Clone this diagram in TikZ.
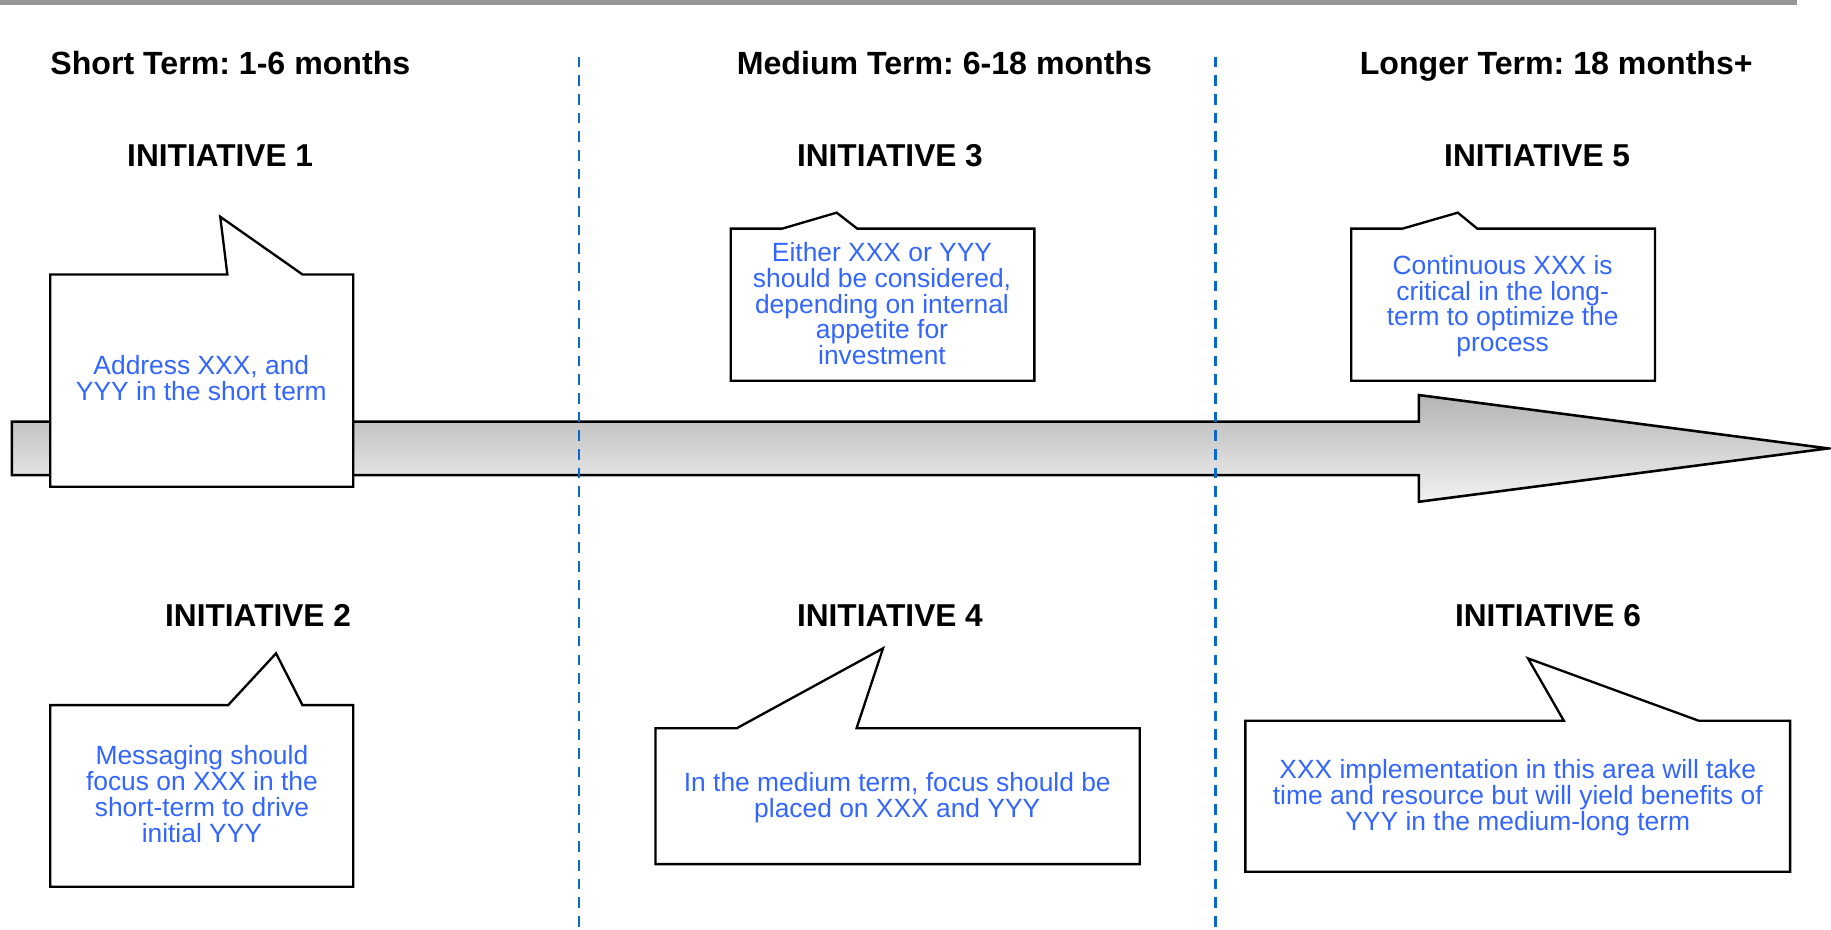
\documentclass[tikz,border=0pt]{standalone}
\usepackage{fontspec}
\setmainfont{Liberation Sans}
\frenchspacing
\definecolor{txtblue}{RGB}{51,102,255}
\definecolor{dashblue}{RGB}{8,104,206}
\definecolor{bargray}{RGB}{150,150,150}
\tikzset{
  hdr/.style={inner sep=0pt, anchor=base west, font=\fontsize{27.5}{30}\selectfont\bfseries},
  ini/.style={inner sep=0pt, anchor=base, font=\fontsize{27.1}{30}\selectfont\bfseries},
  body/.style={inner sep=0pt, anchor=center, align=center, text=txtblue, font=\fontsize{22.6}{22}\selectfont},
  callout/.style={draw=black, fill=white, line width=2pt, line join=miter},
  divider/.style={draw=dashblue, line width=2pt, dash pattern=on 9.1pt off 6.9pt},
  bigarrow/.style={draw=black, line width=2.2pt, top color={rgb,255:red,180;green,180;blue,180}, bottom color={rgb,255:red,242;green,242;blue,242}}
}
\begin{document}
\begin{tikzpicture}[x=1pt,y=-1pt]
\useasboundingbox (0,0) rectangle (1568,796);
% top bar
\fill[bargray] (0,0) rectangle (1539,4.5);
% timeline arrow
\path[bigarrow] (10.2,361.1) -- (1215,361.1) -- (1215,338.3) -- (1565.5,384) -- (1215,429.7) -- (1215,406.8) -- (10.2,406.8) -- cycle;
% dividers
\coordinate (d1t) at (496.1,48.5);
\coordinate (d1b) at (496.1,796);
\coordinate (d2t) at (1041,48.5);
\coordinate (d2b) at (1041,796);
\draw[divider] (d1t) -- (d1b);
\draw[divider] (d2t) -- (d2b);
% headers
\node[hdr] (h1) at (43,63.4) {Short Term: 1-6 months};
\node[hdr] (h2) at (630.8,63.4) {Medium Term: 6-18 months};
\node[hdr] (h3) at (1164.3,63.4) {Longer Term: 18 months+};
% initiative titles
\node[ini] (i1) at (188.5,142.7) {INITIATIVE 1};
\node[ini] (i3) at (762.1,142.7) {INITIATIVE 3};
\node[ini] (i5) at (1316.3,142.7) {INITIATIVE 5};
\node[ini] (i2) at (221,536.7) {INITIATIVE 2};
\node[ini] (i4) at (762.1,536.7) {INITIATIVE 4};
\node[ini] (i6) at (1325.6,536.7) {INITIATIVE 6};
% callouts
\path[callout] (43,235) -- (194.7,235) -- (188.6,185.6) -- (259,235) -- (302.5,235) -- (302.5,416.8) -- (43,416.8) -- cycle;
\path[callout] (625.8,195.8) -- (669.8,195.8) -- (716.5,182.1) -- (734.1,195.8) -- (885.8,195.8) -- (885.8,326) -- (625.8,326) -- cycle;
\path[callout] (1157.2,195.8) -- (1201,195.8) -- (1248.4,182.1) -- (1265.1,195.8) -- (1417.2,195.8) -- (1417.2,326) -- (1157.2,326) -- cycle;
\path[callout] (43,603.8) -- (195.4,603.8) -- (236.4,559.5) -- (259,603.8) -- (302.5,603.8) -- (302.5,759.3) -- (43,759.3) -- cycle;
\path[callout] (561.4,623.7) -- (630.8,623.7) -- (756.2,555.2) -- (733.5,623.7) -- (976,623.7) -- (976,740) -- (561.4,740) -- cycle;
\path[callout] (1066.5,617.2) -- (1339.2,617.2) -- (1308.5,563.8) -- (1454.7,617.2) -- (1533,617.2) -- (1533,746.5) -- (1066.5,746.5) -- cycle;
% callout texts
\node[body] (t1) at (172.4,323.7) {Address XXX, and\\YYY in the short term};
\node[body] (t3) at (755.3,260) {Either XXX or YYY\\should be considered,\\depending on internal\\appetite for\\investment};
\node[body] (t5) at (1286.8,262.1) {Continuous XXX is\\critical in the long-\\term to optimize the\\process};
\node[body] (t2) at (172.9,680) {Messaging should\\focus on XXX in the\\short-term to drive\\initial YYY};
\node[body] (t4) at (768.4,682.9) {In the medium term, focus should be\\placed on XXX and YYY};
\node[body] (t6) at (1299.8,683.2) {XXX implementation in this area will take\\time and resource but will yield benefits of\\YYY in the medium-long term};
\end{tikzpicture}
\end{document}
